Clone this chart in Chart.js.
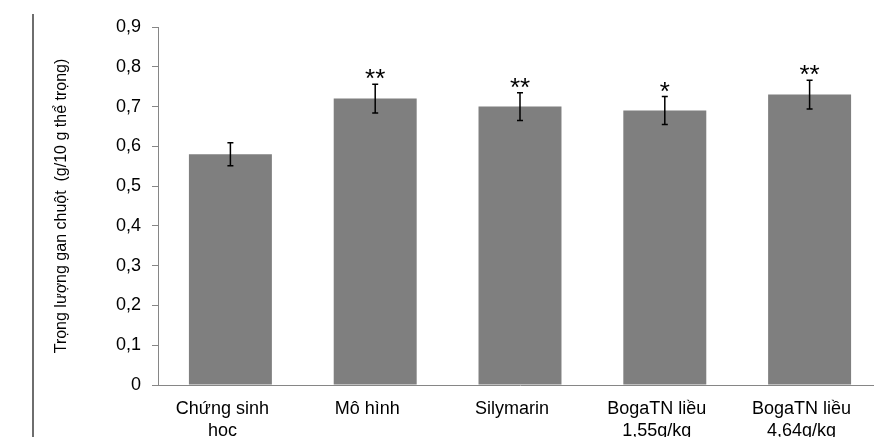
<!DOCTYPE html>
<html>
<head>
<meta charset="utf-8">
<script src="https://cdn.jsdelivr.net/npm/chart.js@4"></script>
<style>
  body { margin: 0; overflow: hidden; background: #fff; }
  canvas { display: block; }
</style>
</head>
<body>
<canvas id="liverChart" width="890" height="437"></canvas>
<script>
// du lieu doc tu hinh
const groups = [["Chứng sinh", "học"], "Mô hình", "Silymarin", ["BogaTN liều", "1,55g/kg"], ["BogaTN liều", "4,64g/kg"]];
const liverWeight = [0.58, 0.72, 0.70, 0.69, 0.73];
const liverSD = [0.029, 0.036, 0.035, 0.035, 0.036];
const significance = ["", "**", "**", "*", "**"];
const yTitle = "Trọng lượng gan chuột  (g/10 g thể trọng)";

const fontName = "'Liberation Sans', Arial, sans-serif";

// error bars + dau sao
const errorBarPlugin = {
    id: "errorBars",
    afterDatasetsDraw(chart) {
        const ctx = chart.ctx;
        const meta = chart.getDatasetMeta(0);
        const y = chart.scales.y;
        ctx.save();
        ctx.strokeStyle = "#000";
        ctx.lineWidth = 1.5;
        meta.data.forEach(function (bar, i) {
            const top = y.getPixelForValue(liverWeight[i] + liverSD[i]);
            const bottom = y.getPixelForValue(liverWeight[i] - liverSD[i]);
            ctx.beginPath();
            ctx.moveTo(bar.x, top);
            ctx.lineTo(bar.x, bottom);
            ctx.moveTo(bar.x - 3, top);
            ctx.lineTo(bar.x + 3, top);
            ctx.moveTo(bar.x - 3, bottom);
            ctx.lineTo(bar.x + 3, bottom);
            ctx.stroke();

            if (significance[i]) {
                ctx.fillStyle = "#000";
                ctx.font = "26px " + fontName;
                ctx.textAlign = "center";
                ctx.textBaseline = "alphabetic";
                ctx.fillText(significance[i], bar.x, top + 3);
            }
        });
        ctx.restore();
    }
};

// duong ke doc ben trai
const leftLinePlugin = {
    id: "leftLine",
    beforeDraw(chart) {
        const ctx = chart.ctx;
        ctx.save();
        ctx.strokeStyle = "#6e6e6e";
        ctx.lineWidth = 2;
        ctx.beginPath();
        ctx.moveTo(33, 14);
        ctx.lineTo(33, 437);
        ctx.stroke();
        ctx.restore();
    }
};

new Chart(document.getElementById("liverChart").getContext("2d"), {
    type: "bar",
    data: {
        labels: groups,
        datasets: [{
            data: liverWeight,
            backgroundColor: "#7f7f7f",
            borderWidth: 0,
            categoryPercentage: 1,
            barPercentage: 0.573
        }]
    },
    options: {
        responsive: false,
        animation: false,
        layout: { padding: { left: 0, right: 8, top: 27, bottom: 0 } },
        plugins: {
            legend: { display: false },
            tooltip: { enabled: false }
        },
        scales: {
            x: {
                afterFit: function (scale) { scale.height = 52; },
                grid: { display: false },
                border: { display: true, color: "#868686", width: 1 },
                ticks: {
                    color: "#000",
                    padding: 6,
                    labelOffset: -8,
                    maxRotation: 0,
                    autoSkip: false,
                    font: { family: fontName, size: 18, lineHeight: 1.17 }
                }
            },
            y: {
                min: 0,
                max: 0.9,
                afterFit: function (scale) { scale.width = 158; },
                grid: { display: true, drawOnChartArea: false, drawTicks: true, tickLength: 6, color: "#868686" },
                border: { display: true, color: "#868686", width: 1 },
                ticks: {
                    stepSize: 0.1,
                    color: "#000",
                    padding: 11,
                    font: { family: fontName, size: 18 },
                    callback: function (v) { return v === 0 ? "0" : v.toFixed(1).replace(".", ","); }
                },
                title: {
                    display: true,
                    text: yTitle,
                    color: "#000",
                    padding: { top: 52, bottom: 0 },
                    font: { family: fontName, size: 16 }
                }
            }
        }
    },
    plugins: [errorBarPlugin, leftLinePlugin]
});
</script>
</body>
</html>
